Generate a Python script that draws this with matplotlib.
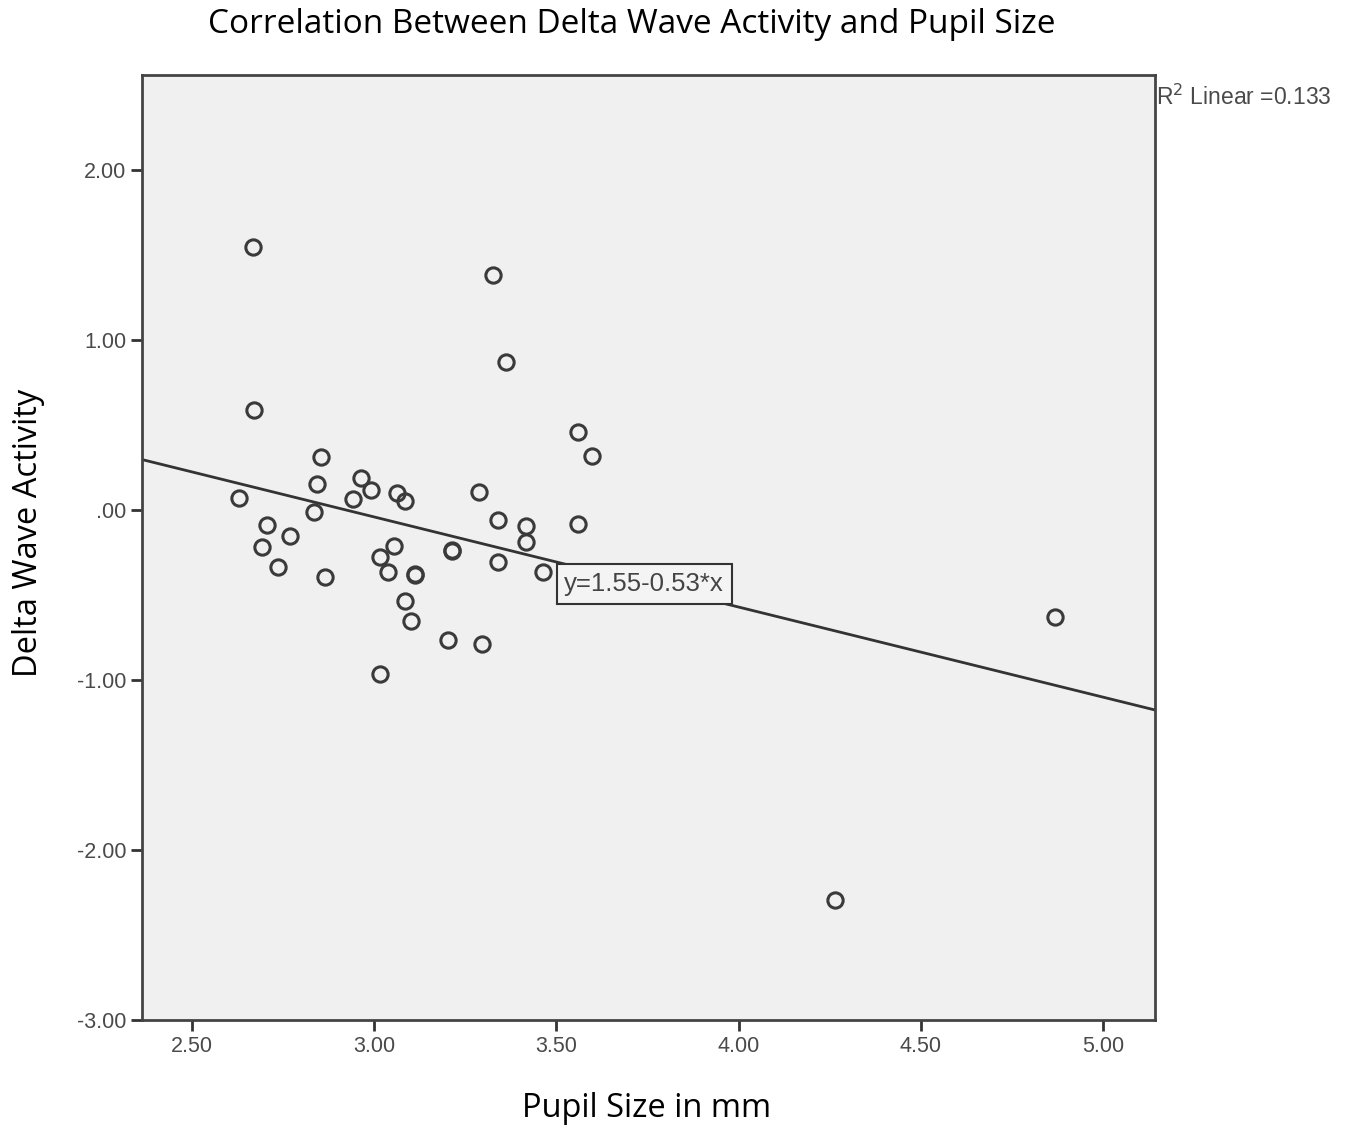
import matplotlib.pyplot as plt

# pupil size (mm) and delta wave activity
pupil = [2.667, 3.326, 3.361, 2.670, 2.854, 2.843, 2.964, 2.991, 2.942, 3.062,
         3.084, 2.629, 2.835, 2.706, 2.769, 2.692, 2.736, 2.865, 3.054, 3.016,
         3.038, 3.112, 3.112, 3.084, 3.101, 3.202, 3.296, 3.016, 3.213, 3.213,
         3.287, 3.340, 3.416, 3.416, 3.340, 3.463, 3.559, 3.597, 3.559, 4.868,
         4.264]
delta = [1.547, 1.382, 0.871, 0.588, 0.312, 0.153, 0.188, 0.118, 0.065, 0.100,
         0.053, 0.071, -0.012, -0.088, -0.153, -0.218, -0.335, -0.394, -0.212, -0.276,
         -0.365, -0.376, -0.380, -0.535, -0.653, -0.765, -0.788, -0.965, -0.235, -0.240,
         0.106, -0.059, -0.094, -0.188, -0.306, -0.365, 0.459, 0.318, -0.082, -0.629,
         -2.294]

intercept = 1.55
slope = -0.53
r2 = 0.133

xticks = [2.5, 3.0, 3.5, 4.0, 4.5, 5.0]
xticklabels = ['2.50', '3.00', '3.50', '4.00', '4.50', '5.00']
yticks = [-3, -2, -1, 0, 1, 2]
yticklabels = ['-3.00', '-2.00', '-1.00', '.00', '1.00', '2.00']

xmin, xmax = 2.363, 5.143
ymin, ymax = -3.0, 2.56

fig = plt.figure(figsize=(13.55, 11.28), dpi=100)
ax = fig.add_axes([0.1048, 0.0957, 0.7476, 0.8378])
ax.set_facecolor('#f0f0f0')

ax.plot(pupil, delta, 'o', markersize=11, markerfacecolor='none',
        markeredgecolor='#3a3a3a', markeredgewidth=2.2, zorder=3)

# fit line across the whole axis
ax.plot([xmin, xmax], [intercept + slope * xmin, intercept + slope * xmax],
        color='#333333', linewidth=2, zorder=2)

ax.text(3.522, -0.435, 'y=1.55-0.53*x', fontsize=18.5, family='Liberation Sans',
        color='#444444', va='center', ha='left', zorder=4,
        bbox=dict(facecolor='#f4f4f4', edgecolor='#333333', linewidth=1.5,
                  boxstyle='square,pad=0.3'))

ax.set_xlim(xmin, xmax)
ax.set_ylim(ymin, ymax)
ax.set_xticks(xticks)
ax.set_xticklabels(xticklabels)
ax.set_yticks(yticks)
ax.set_yticklabels(yticklabels)
ax.tick_params(direction='out', length=8, width=2, color='#333333',
               labelsize=15.5, labelcolor='#4a4a4a')
for lab in ax.get_xticklabels() + ax.get_yticklabels():
    lab.set_family('Liberation Sans')
for s in ax.spines.values():
    s.set_linewidth(2)
    s.set_color('#444444')

fig.text(0.4768, 0.0177, 'Pupil Size in mm', fontsize=23.5, family='Open Sans',
         ha='center', va='center')
fig.text(0.0207, 0.5275, 'Delta Wave Activity', fontsize=23.5, family='Open Sans',
         ha='center', va='center', rotation=90)
fig.text(0.4664, 0.978, 'Correlation Between Delta Wave Activity and Pupil Size',
         fontsize=24, family='Open Sans', ha='center', va='center')
fig.text(0.853, 0.914, 'R$^2$ Linear =0.133', fontsize=16.5, family='Liberation Sans',
         color='#4a4a4a', ha='left', va='center')

plt.savefig('out.png', dpi=100)
